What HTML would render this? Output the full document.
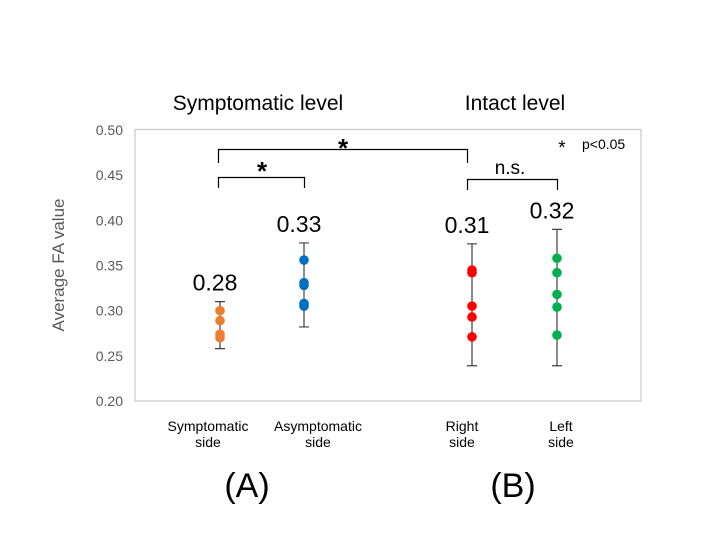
<!DOCTYPE html>
<html><head><meta charset="utf-8"><style>
body{margin:0;background:#fff;}
svg{display:block;font-family:"Liberation Sans",sans-serif;}
</style></head><body>
<svg id="chart" width="720" height="540">
<rect x="135" y="129.5" width="506" height="271.5" fill="#fff" stroke="#c8c8c8" stroke-width="1.2"/>
<text x="258" y="110" font-size="21" text-anchor="middle">Symptomatic level</text>
<text x="515" y="110" font-size="21" text-anchor="middle">Intact level</text>
<text transform="translate(64,265) rotate(-90)" font-size="17" fill="#595959" text-anchor="middle">Average FA value</text>
<g id="yticks"></g>
<g id="marks"></g>
<g stroke="#000" stroke-width="1.2" fill="none">
<path d="M218.5,163 V149.5 H467.5 V163"/>
<path d="M218.5,188 V177.5 H304.5 V188"/>
<path d="M467.5,190 V179.5 H557.5 V190"/>
</g>
<text x="343" y="157" font-size="26" text-anchor="middle" font-weight="bold">*</text>
<text x="262" y="180" font-size="26" text-anchor="middle" font-weight="bold">*</text>
<text x="510" y="174" font-size="19" text-anchor="middle">n.s.</text>
<text x="562" y="154" font-size="19" text-anchor="middle">*</text>
<text x="582" y="149" font-size="14">p&lt;0.05</text>
<text x="208" y="431" font-size="14" text-anchor="middle"><tspan x="208" dy="0">Symptomatic</tspan><tspan x="208" dy="16">side</tspan></text>
<text x="318" y="431" font-size="14" text-anchor="middle"><tspan x="318" dy="0">Asymptomatic</tspan><tspan x="318" dy="16">side</tspan></text>
<text x="462" y="431" font-size="14" text-anchor="middle"><tspan x="462" dy="0">Right</tspan><tspan x="462" dy="16">side</tspan></text>
<text x="561" y="431" font-size="14" text-anchor="middle"><tspan x="561" dy="0">Left</tspan><tspan x="561" dy="16">side</tspan></text>
<text x="247" y="497" font-size="34" text-anchor="middle">(A)</text>
<text x="513" y="497" font-size="34" text-anchor="middle">(B)</text>
</svg>
<script>
const categories=["Symptomatic side","Asymptomatic side","Right side","Left side"];
const colors=["#ED7D31","#0070C0","#FF0000","#00B050"];
const points=[[0.300,0.289,0.274,0.270],[0.356,0.331,0.328,0.308,0.305],[0.345,0.342,0.305,0.293,0.271],[0.358,0.342,0.318,0.304,0.273]];
const errHigh=[0.310,0.375,0.374,0.390];
const errLow=[0.258,0.282,0.239,0.239];
const meanLabels=["0.28","0.33","0.31","0.32"];
const yTicks=[0.20,0.25,0.30,0.35,0.40,0.45,0.50];
const catX=[220,304,472,557];
const y=v=>130+(0.50-v)*903.3;
const x=i=>catX[i];
const NS="http://www.w3.org/2000/svg";
const yt=document.getElementById('yticks'),mk=document.getElementById('marks');
yTicks.forEach(t=>{const e=document.createElementNS(NS,'text');


e.setAttribute('x',123);e.setAttribute('y',y(t)+5);e.setAttribute('text-anchor','end');e.setAttribute('font-size','14');e.setAttribute('fill','#595959');e.textContent=t.toFixed(2);yt.appendChild(e);});
categories.forEach((c,i)=>{
const g=document.createElementNS(NS,'g');


const hi=y(errHigh[i]),lo=y(errLow[i]),cx=x(i);
const p=document.createElementNS(NS,'path');


p.setAttribute('d',`M${cx},${hi}V${lo}M${cx-5},${hi}H${cx+5}M${cx-5},${lo}H${cx+5}`);p.setAttribute('stroke','#404040');p.setAttribute('stroke-width','1.2');g.appendChild(p);
points[i].forEach(v=>{const d=document.createElementNS(NS,'circle');


d.setAttribute('cx',cx);d.setAttribute('cy',y(v));d.setAttribute('r',4.8);d.setAttribute('fill',colors[i]);g.appendChild(d);});
const t=document.createElementNS(NS,'text');


t.setAttribute('x',cx-5);t.setAttribute('y',hi-11);t.setAttribute('text-anchor','middle');t.setAttribute('font-size','23');t.textContent=meanLabels[i];g.appendChild(t);
mk.appendChild(g);});
</script>
</body></html>
